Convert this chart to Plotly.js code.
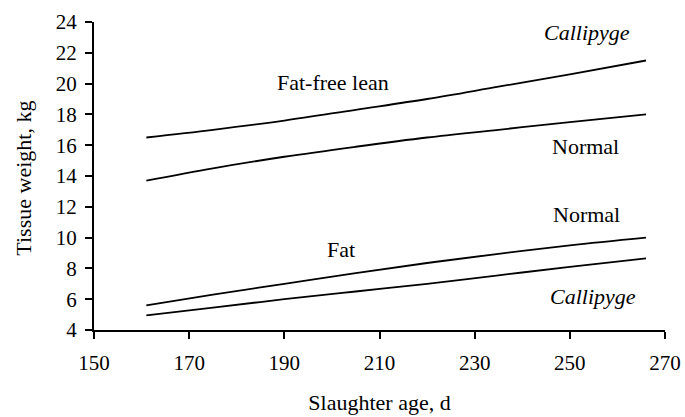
<!DOCTYPE html>
<html>
<head>
<meta charset="utf-8">
<script src="https://cdn.plot.ly/plotly-3.0.1.min.js"></script>
<style>html,body{margin:0;padding:0;background:#fff;}#chart{width:685px;height:417px;}</style>
</head>
<body>
<div id="chart"></div>
<script>
// Slaughter age (d)
const ages = [161, 175, 190, 205, 220, 235, 250, 266];
// Tissue weights (kg)
const leanCallipyge = [16.5, 17.0, 17.6, 18.3, 19.0, 19.8, 20.6, 21.5];
const leanNormal    = [13.7, 14.5, 15.25, 15.9, 16.5, 17.0, 17.5, 18.0];
const fatNormal     = [5.6, 6.3, 7.0, 7.7, 8.35, 8.95, 9.5, 10.0];
const fatCallipyge  = [4.95, 5.45, 6.0, 6.5, 7.0, 7.55, 8.1, 8.65];

const xTicks = [150, 170, 190, 210, 230, 250, 270];
const yTicks = [4, 6, 8, 10, 12, 14, 16, 18, 20, 22, 24];

const labels = [
  {text: "<i>Callipyge</i>", x: 253.6, y: 23.3},
  {text: "Fat-free lean", x: 200.3, y: 20.1},
  {text: "Normal", x: 253.3, y: 15.9},
  {text: "Normal", x: 253.6, y: 11.47},
  {text: "Fat", x: 201.9, y: 9.2},
  {text: "<i>Callipyge</i>", x: 254.8, y: 6.2}
];
const xTitle = "Slaughter age, d";
const yTitle = "Tissue weight, kg";

const font = "Liberation Serif";
const series = [leanCallipyge, leanNormal, fatNormal, fatCallipyge];
const traces = series.map(s => ({
  x: ages, y: s, type: "scatter", mode: "lines",
  line: {color: "#000", width: 1.8, shape: "spline"},
  hoverinfo: "skip", showlegend: false
}));

const annotations = labels.map(a => ({
  x: a.x, y: a.y, xref: "x", yref: "y", text: a.text, showarrow: false,
  font: {family: font, size: 22, color: "#000"}
}));
annotations.push({
  x: -0.124, y: 0.492, xref: "paper", yref: "paper", text: yTitle, textangle: -90,
  showarrow: false, xanchor: "center", yanchor: "middle",
  font: {family: font, size: 22, color: "#000"}
});

const layout = {
  width: 685, height: 417,
  margin: {l: 93.5, r: 20, t: 22, b: 87},
  paper_bgcolor: "#fff", plot_bgcolor: "#fff",
  font: {family: font, size: 20, color: "#000"},
  showlegend: false,
  xaxis: {
    range: [150, 270], tickvals: xTicks, ticktext: xTicks.map(String),
    showgrid: false, zeroline: false, showline: true, linecolor: "#000", linewidth: 2,
    ticks: "outside", ticklen: 7, tickwidth: 2, tickcolor: "#000",
    ticklabelstandoff: 6,
    tickfont: {family: font, size: 21},
    title: {text: xTitle, font: {family: font, size: 22}, standoff: 20}
  },
  yaxis: {
    range: [4, 24], tickvals: yTicks, ticktext: yTicks.map(String),
    showgrid: false, zeroline: false, showline: true, linecolor: "#000", linewidth: 2,
    ticks: "outside", ticklen: 7, tickwidth: 2, tickcolor: "#000",
    ticklabelstandoff: 4,
    tickfont: {family: font, size: 21}
  },
  annotations: annotations
};

Plotly.newPlot("chart", traces, layout, {displayModeBar: false, staticPlot: true});
</script>
</body>
</html>
